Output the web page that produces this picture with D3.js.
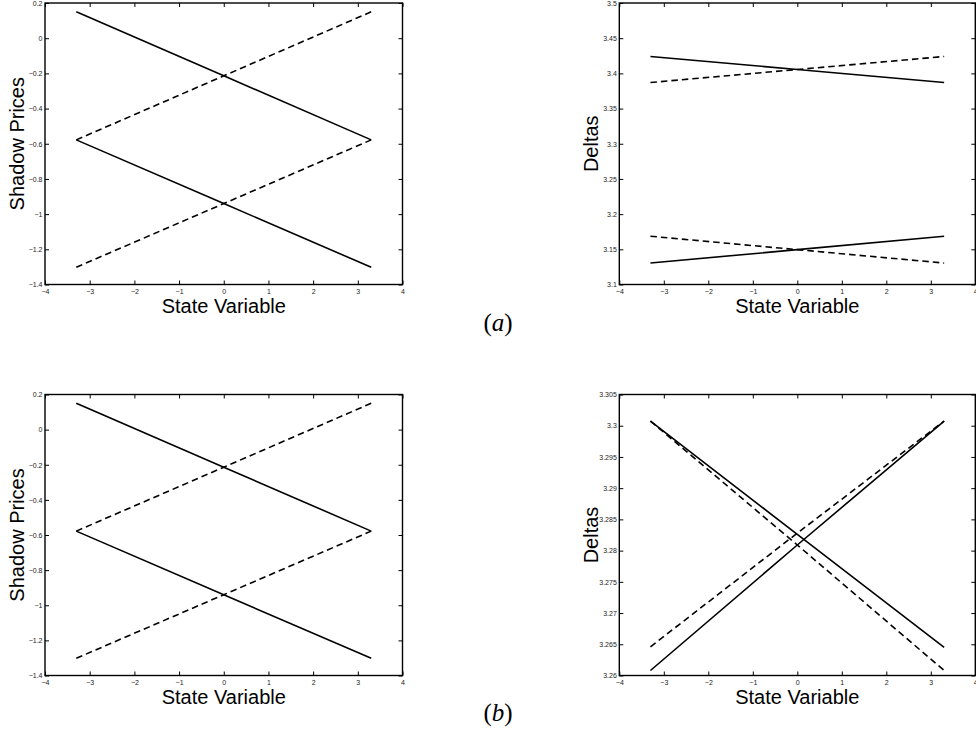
<!DOCTYPE html>
<html>
<head>
<meta charset="utf-8">
<script src="https://cdn.jsdelivr.net/npm/d3@7"></script>
<style>
  body { margin: 0; background: #fff; }
  svg { display: block; }
  .tick text { font-family: "Liberation Sans", Arial, Helvetica, sans-serif; font-size: 7px; fill: #222; }
  .tick line { stroke: #000; stroke-width: 1; }
  .axis-title { font-family: "Liberation Sans", Arial, Helvetica, sans-serif; font-size: 20px; fill: #000; }
  .panel-tag { font-family: "Liberation Serif", "DejaVu Serif", serif; font-size: 25px; fill: #000; }
</style>
</head>
<body>
<svg></svg>
<script>
// state variable grid (x values) shared by all panels
var stateX = [-3.3, 0, 3.3];

// x axis ticks
var xTicks = [-4, -3, -2, -1, 0, 1, 2, 3, 4];

// shadow prices, panels (a) and (b)
var shadowSolid1 = [0.15, -0.214, -0.578];
var shadowSolid2 = [-0.578, -0.94, -1.302];
var shadowDash1 = [-0.578, -0.214, 0.15];
var shadowDash2 = [-1.302, -0.94, -0.578];
var shadowTicks = [-1.4, -1.2, -1, -0.8, -0.6, -0.4, -0.2, 0, 0.2];

// deltas, panel (a)
var deltaASolid1 = [3.424, 3.4055, 3.387];
var deltaADash1 = [3.387, 3.4055, 3.424];
var deltaASolid2 = [3.1305, 3.1495, 3.1686];
var deltaADash2 = [3.1686, 3.1495, 3.1305];
var deltaATicks = [3.1, 3.15, 3.2, 3.25, 3.3, 3.35, 3.4, 3.45, 3.5];

// deltas, panel (b)
var deltaBSolid1 = [3.30075, 3.2826, 3.2645];
var deltaBSolid2 = [3.2608, 3.2809, 3.30075];
var deltaBDash1 = [3.2646, 3.2828, 3.30075];
var deltaBDash2 = [3.30075, 3.2809, 3.2608];
var deltaBTicks = [3.26, 3.265, 3.27, 3.275, 3.28, 3.285, 3.29, 3.295, 3.3, 3.305];

var width = 976;
var height = 738;
var svg = d3.select("svg");
svg.attr('width', width).attr('height', height);

var panels = [
  { left: 45, right: 402.5, top: 3, bottom: 284.5, yTicks: shadowTicks, ylabel: 'Shadow Prices',
    series: [[shadowSolid1, false], [shadowSolid2, false], [shadowDash1, true], [shadowDash2, true]] },
  { left: 619.3, right: 975.3, top: 3, bottom: 284.5, yTicks: deltaATicks, ylabel: 'Deltas',
    series: [[deltaASolid1, false], [deltaASolid2, false], [deltaADash1, true], [deltaADash2, true]] },
  { left: 45, right: 402.5, top: 394.5, bottom: 675.5, yTicks: shadowTicks, ylabel: 'Shadow Prices',
    series: [[shadowSolid1, false], [shadowSolid2, false], [shadowDash1, true], [shadowDash2, true]] },
  { left: 619.3, right: 975.3, top: 394.5, bottom: 675.5, yTicks: deltaBTicks, ylabel: 'Deltas',
    series: [[deltaBSolid1, false], [deltaBSolid2, false], [deltaBDash1, true], [deltaBDash2, true]] }
];

var fmt = d3.format("");

panels.forEach(function(p) {
  var xScale = d3.scaleLinear()
                 .domain([-4, 4])
                 .range([p.left, p.right]);
  var yScale = d3.scaleLinear()
                 .domain([p.yTicks[0], p.yTicks[p.yTicks.length - 1]])
                 .range([p.bottom, p.top]);

  var g = svg.append('g');

  // ticks on all four sides, pointing inwards
  g.append('g')
    .attr('transform', 'translate(0,' + p.bottom + ')')
    .call(d3.axisBottom(xScale).tickValues(xTicks).tickFormat(fmt)
      .tickSizeInner(-4).tickSizeOuter(0).tickPadding(5));
  g.append('g')
    .attr('transform', 'translate(0,' + p.top + ')')
    .call(d3.axisTop(xScale).tickValues(xTicks).tickFormat('')
      .tickSizeInner(-4).tickSizeOuter(0));
  g.append('g')
    .attr('transform', 'translate(' + p.left + ',0)')
    .call(d3.axisLeft(yScale).tickValues(p.yTicks).tickFormat(fmt)
      .tickSizeInner(-4).tickSizeOuter(0).tickPadding(2.5));
  g.append('g')
    .attr('transform', 'translate(' + p.right + ',0)')
    .call(d3.axisRight(yScale).tickValues(p.yTicks).tickFormat('')
      .tickSizeInner(-4).tickSizeOuter(0));
  g.selectAll('.domain').remove();

  // box
  g.append('rect')
    .attr('x', p.left)
    .attr('y', p.top)
    .attr('width', p.right - p.left)
    .attr('height', p.bottom - p.top)
    .attr('fill', 'none')
    .attr('stroke', '#000')
    .attr('stroke-width', 1.4);

  var line = d3.line()
    .x(function(d, i) { return xScale(stateX[i]); })
    .y(function(d) { return yScale(d); });

  g.selectAll('path.series')
    .data(p.series)
    .enter()
    .append('path')
    .attr('class', 'series')
    .attr('d', function(d) { return line(d[0]); })
    .attr('fill', 'none')
    .attr('stroke', '#000')
    .attr('stroke-width', 1.6)
    .attr('stroke-dasharray', function(d) { return d[1] ? '6.5,4' : null; });

  // axis titles
  g.append('text')
    .attr('class', 'axis-title')
    .attr('x', (p.left + p.right) / 2)
    .attr('y', p.bottom + 28.5)
    .attr('text-anchor', 'middle')
    .text('State Variable');

  g.append('text')
    .attr('class', 'axis-title')
    .attr('transform', 'translate(' + (p.left - 21) + ',' + ((p.top + p.bottom) / 2) + ') rotate(-90)')
    .attr('text-anchor', 'middle')
    .text(p.ylabel);
});

// panel tags
var tags = [{ label: 'a', y: 331 }, { label: 'b', y: 721 }];
tags.forEach(function(t) {
  var txt = svg.append('text')
    .attr('class', 'panel-tag')
    .attr('x', 498)
    .attr('y', t.y)
    .attr('text-anchor', 'middle');
  txt.append('tspan').text('(');
  txt.append('tspan').attr('font-style', 'italic').text(t.label);
  txt.append('tspan').text(')');
});
</script>
</body>
</html>
